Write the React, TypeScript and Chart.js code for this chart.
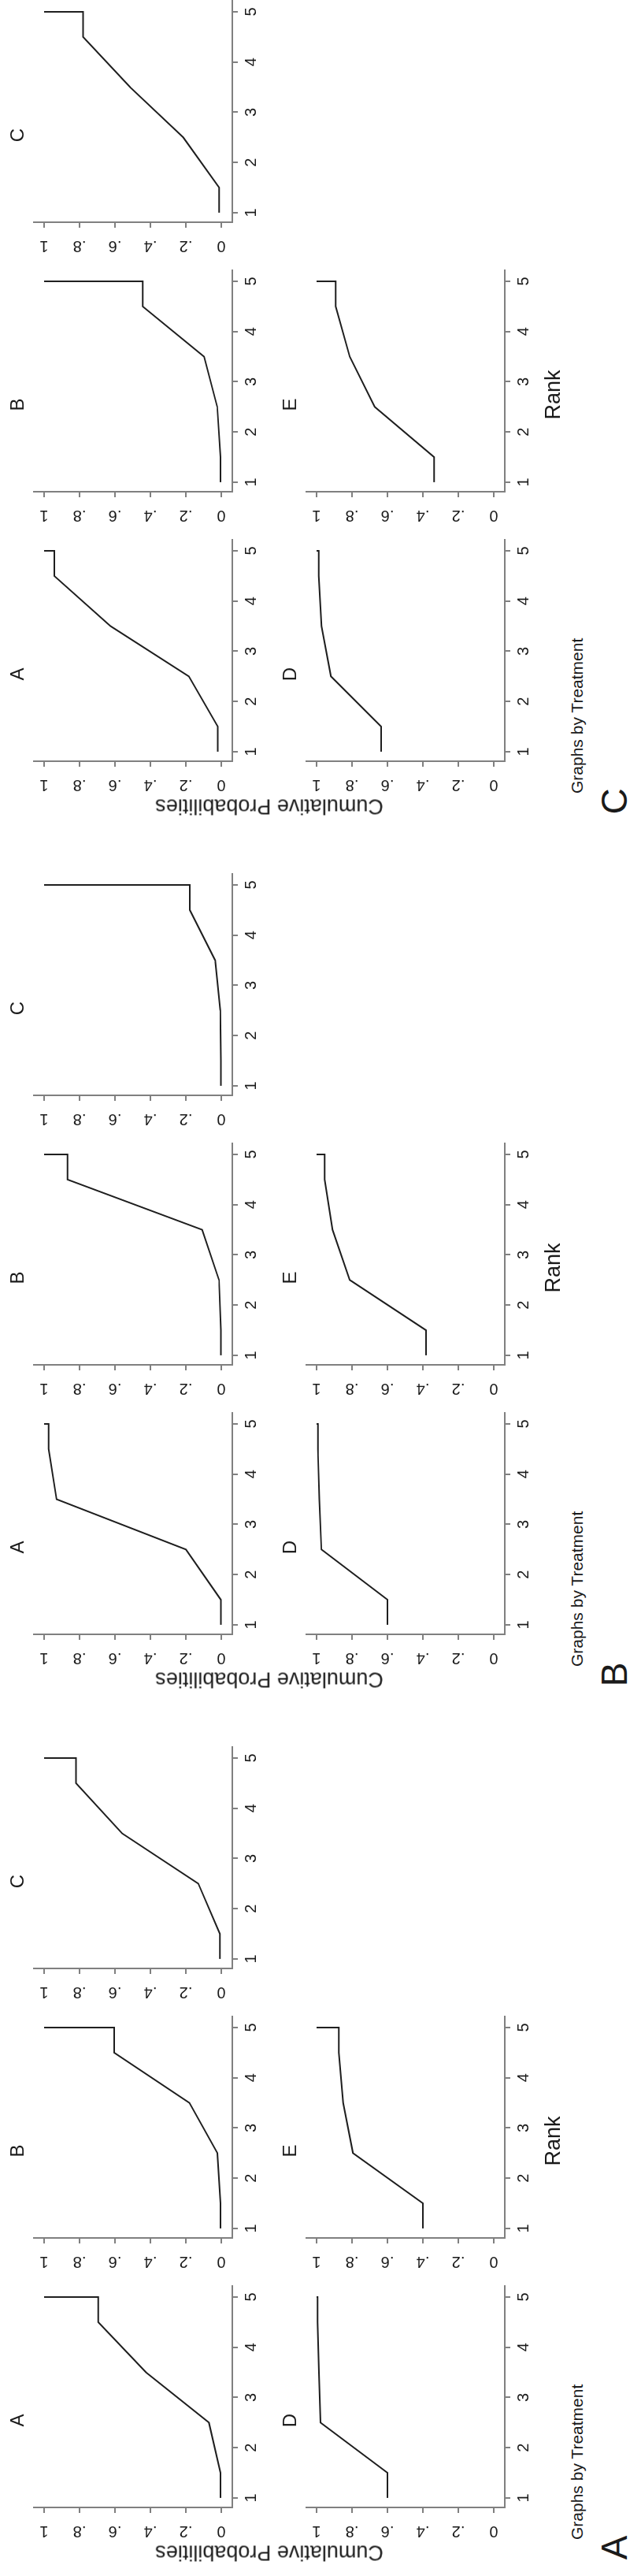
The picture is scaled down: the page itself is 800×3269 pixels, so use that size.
import React, { useEffect, useRef } from 'react';
import { Chart, registerables } from 'chart.js';

Chart.register(...registerables);

const FONT = '"Liberation Sans", Arial, Helvetica, sans-serif';

// ---------- data ----------
const figurePanels = ['A', 'B', 'C'];
const treatments = ['A', 'B', 'C', 'D', 'E'];
const rankTicks = [1, 2, 3, 4, 5];
const probTicks = [0, 0.2, 0.4, 0.6, 0.8, 1];
const probTickLabels = ['0', '.2', '.4', '.6', '.8', '1'];
const rankKnots = [1, 1.5, 2.5, 3.5, 4.5, 5, 5];

// Figure A
const figA_A = [0.005, 0.005, 0.07, 0.425, 0.695, 0.695, 1];
const figA_B = [0.005, 0.005, 0.022, 0.18, 0.605, 0.605, 1];
const figA_C = [0.008, 0.008, 0.13, 0.56, 0.82, 0.82, 1];
const figA_D = [0.6, 0.6, 0.978, 0.987, 0.995, 0.995, 1];
const figA_E = [0.4, 0.4, 0.795, 0.85, 0.875, 0.875, 1];

// Figure B
const figB_A = [0.003, 0.003, 0.2, 0.93, 0.975, 0.975, 1];
const figB_B = [0.003, 0.003, 0.013, 0.108, 0.868, 0.868, 1];
const figB_C = [0.002, 0.002, 0.006, 0.035, 0.178, 0.178, 1];
const figB_D = [0.6, 0.6, 0.973, 0.985, 0.993, 0.993, 1];
const figB_E = [0.383, 0.383, 0.813, 0.91, 0.955, 0.955, 1];

// Figure C
const figC_A = [0.02, 0.02, 0.183, 0.625, 0.943, 0.943, 1];
const figC_B = [0.005, 0.005, 0.023, 0.097, 0.444, 0.444, 1];
const figC_C = [0.012, 0.012, 0.215, 0.515, 0.78, 0.78, 1];
const figC_D = [0.636, 0.636, 0.919, 0.972, 0.988, 0.988, 1];
const figC_E = [0.337, 0.337, 0.672, 0.813, 0.892, 0.892, 1];

const seriesByPanel: Record<string, number[][]> = {
  A: [figA_A, figA_B, figA_C, figA_D, figA_E],
  B: [figB_A, figB_B, figB_C, figB_D, figB_E],
  C: [figC_A, figC_B, figC_C, figC_D, figC_E],
};

// ---------- layout (original, unrotated frame 3269 x 800) ----------
const FRAME_W = 3269;
const FRAME_H = 800;
const PANEL_PITCH = 1108;
const COL_PITCH = 342;
const ROW_PITCH = 346;
const PLOT_LEFT0 = 87;
const PLOT_TOP0 = 43;
const PLOT_W = 281;
const PLOT_H = 252;
const YAXIS_W = 60;
const XAXIS_H = 45;
const TITLE_H = 43;
const PAD_R = 20;

const AXIS = '#808080';
const LINE = '#1e1e1e';
const TEXT = '#1a1a1a';

function Subplot(props: { left: number; top: number; title: string; values: number[] }) {
  const { left, top, title, values } = props;
  const ref = useRef<HTMLCanvasElement | null>(null);
  const cw = YAXIS_W + PLOT_W + PAD_R;
  const ch = TITLE_H + PLOT_H + XAXIS_H;

  useEffect(() => {
    if (!ref.current) return;
    const chart = new Chart(ref.current, {
      type: 'scatter',
      data: {
        datasets: [
          {
            data: rankKnots.map((r, i) => ({ x: r, y: values[i] })),
            showLine: true,
            borderColor: LINE,
            borderWidth: 2,
            pointRadius: 0,
            fill: false,
            tension: 0,
          } as any,
        ],
      },
      options: {
        responsive: false,
        animation: false,
        events: [],
        devicePixelRatio: 1,
        layout: { padding: { left: 0, right: PAD_R, top: 0, bottom: 0 } },
        plugins: {
          legend: { display: false },
          tooltip: { enabled: false },
          title: {
            display: true,
            text: title,
            color: TEXT,
            font: { family: FONT, size: 24, weight: 'normal', lineHeight: 1.2 },
            padding: { top: 8.6, bottom: 5.6 },
          },
        },
        scales: {
          x: {
            type: 'linear',
            position: 'bottom',
            min: 0.81,
            max: 5.22,
            afterBuildTicks: (s: any) => {
              s.ticks = rankTicks.map((v) => ({ value: v }));
            },
            afterFit: (s: any) => {
              s.height = XAXIS_H;
            },
            ticks: {
              color: TEXT,
              font: { family: FONT, size: 20 },
              padding: 5,
              minRotation: 0,
              maxRotation: 0,
              autoSkip: false,
              callback: (v: any) => String(v),
            },
            grid: {
              display: true,
              drawOnChartArea: false,
              drawTicks: true,
              tickLength: 7,
              color: AXIS,
              lineWidth: 2,
            },
            border: { display: true, color: AXIS, width: 2 },
          },
          y: {
            type: 'linear',
            position: 'left',
            min: -0.062,
            max: 1.058,
            afterBuildTicks: (s: any) => {
              s.ticks = probTicks.map((v) => ({ value: v }));
            },
            afterFit: (s: any) => {
              s.width = YAXIS_W;
            },
            ticks: {
              color: TEXT,
              font: { family: FONT, size: 20 },
              padding: 14,
              minRotation: 90,
              maxRotation: 90,
              crossAlign: 'center',
              autoSkip: false,
              callback: (v: any) => {
                const idx = probTicks.findIndex((t) => Math.abs(t - Number(v)) < 1e-9);
                return idx >= 0 ? probTickLabels[idx] : '';
              },
            },
            grid: {
              display: true,
              drawOnChartArea: false,
              drawTicks: true,
              tickLength: 7,
              color: AXIS,
              lineWidth: 2,
            },
            border: { display: true, color: AXIS, width: 2 },
          },
        },
      } as any,
    });
    return () => chart.destroy();
  }, []);

  return (
    <canvas
      ref={ref}
      width={cw}
      height={ch}
      style={{
        position: 'absolute',
        left: left - YAXIS_W,
        top: top - TITLE_H,
        width: cw,
        height: ch,
      }}
    />
  );
}

function Panel(props: { label: string; index: number }) {
  const { label, index } = props;
  const base = index * PANEL_PITCH;
  const series = seriesByPanel[label];
  const centered = (x: number, y: number, extra: React.CSSProperties = {}): React.CSSProperties => ({
    position: 'absolute',
    left: x,
    top: y,
    whiteSpace: 'nowrap',
    color: TEXT,
    fontFamily: FONT,
    lineHeight: 1,
    ...extra,
  });
  return (
    <>
      {treatments.map((t, i) => {
        const row = i < 3 ? 0 : 1;
        const col = i < 3 ? i : i - 3;
        return (
          <Subplot
            key={t}
            left={base + PLOT_LEFT0 + col * COL_PITCH}
            top={PLOT_TOP0 + row * ROW_PITCH}
            title={t}
            values={series[i]}
          />
        );
      })}
      <div style={centered(base + 30, 342, { fontSize: 27, transform: 'translate(-50%, -50%) rotate(-90deg)' })}>
        Cumulative Probabilities
      </div>
      <div style={centered(base + 552, 702, { fontSize: 27, transform: 'translate(-50%, -50%)' })}>Rank</div>
      <div style={centered(base + 46, 732, { fontSize: 21, transform: 'translate(0, -50%)' })}>
        Graphs by Treatment
      </div>
      <div style={centered(base + 36, 780, { fontSize: 46, transform: 'translate(-50%, -50%)' })}>{label}</div>
    </>
  );
}

export default function App() {
  return (
    <div
      style={{
        position: 'absolute',
        left: 0,
        top: 0,
        width: FRAME_W,
        height: FRAME_H,
        background: '#ffffff',
        transformOrigin: '0 0',
        transform: `translateY(${FRAME_W}px) rotate(-90deg)`,
        overflow: 'hidden',
      }}
    >
      {figurePanels.map((p, i) => (
        <Panel key={p} label={p} index={i} />
      ))}
    </div>
  );
}
